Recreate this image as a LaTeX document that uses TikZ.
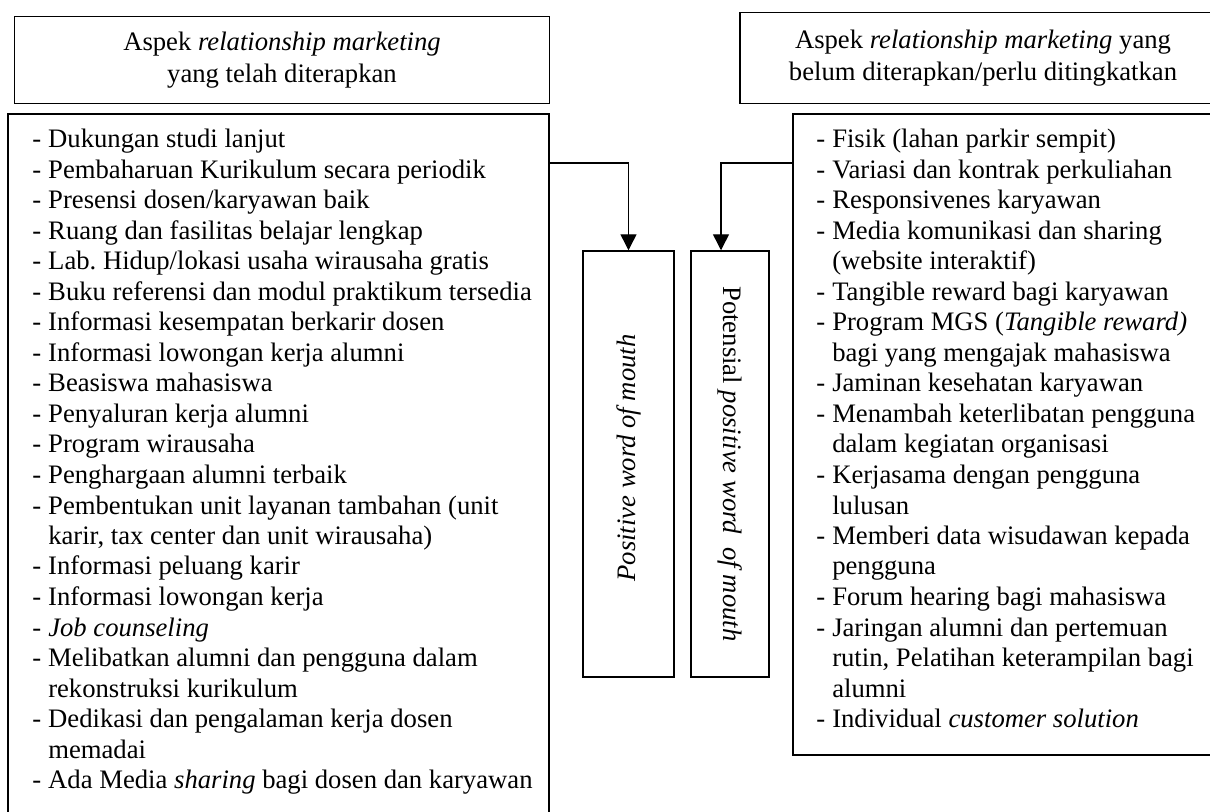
\documentclass[tikz,border=0pt]{standalone}
\usepackage{fontspec}
\setmainfont{Liberation Serif}
\usetikzlibrary{arrows.meta}

\newcommand\dsh{\makebox[0.6em][l]{-}}
\newcommand\ind{\hspace*{0.6em}}

\begin{document}
\begin{tikzpicture}[x=0.75pt,y=-0.75pt,font=\fontsize{20pt}{23.5pt}\selectfont]
\tikzset{
    box/.style={draw, line width=1.1pt, inner sep=0pt},
    head/.style={box, align=center},
    item/.style={anchor=base west, inner sep=0pt},
    conn/.style={line width=1.1pt, -{Triangle[length=12pt,width=12pt]}}}
\def\pitch{30.5}
\def\ytop{148}

\useasboundingbox (0,0) rectangle (1210,812);
\clip (0,0) rectangle (1210,812);

% headers
\node[head, minimum width=401.25pt, minimum height=65.25pt] (lhead) at (282,60)
    {Aspek \textit{relationship marketing}\\yang telah diterapkan};
\node[head, minimum width=364.5pt, minimum height=68.25pt] (rhead) at (983,58)
    {Aspek \textit{relationship marketing} yang\\belum diterapkan/perlu ditingkatkan};

% list boxes
\node[box, minimum width=405.75pt, minimum height=589.5pt] (lbox) at (278.5,507) {};
\node[box, minimum width=327.75pt, minimum height=480.75pt] (rbox) at (1011.5,434.5) {};

\foreach \t [count=\i] in {
    {\dsh Dukungan studi lanjut},
    {\dsh Pembaharuan Kurikulum secara periodik},
    {\dsh Presensi dosen/karyawan baik},
    {\dsh Ruang dan fasilitas belajar lengkap},
    {\dsh Lab.\ Hidup/lokasi usaha wirausaha gratis},
    {\dsh Buku referensi dan modul praktikum tersedia},
    {\dsh Informasi kesempatan berkarir dosen},
    {\dsh Informasi lowongan kerja alumni},
    {\dsh Beasiswa mahasiswa},
    {\dsh Penyaluran kerja alumni},
    {\dsh Program wirausaha},
    {\dsh Penghargaan alumni terbaik},
    {\dsh Pembentukan unit layanan tambahan (unit},
    {\ind karir, tax center dan unit wirausaha)},
    {\dsh Informasi peluang karir},
    {\dsh Informasi lowongan kerja},
    {\dsh \textit{Job counseling}},
    {\dsh Melibatkan alumni dan pengguna dalam},
    {\ind rekonstruksi kurikulum},
    {\dsh Dedikasi dan pengalaman kerja dosen},
    {\ind memadai},
    {\dsh Ada Media \textit{sharing} bagi dosen dan karyawan}}{
    \node[item] (l\i) at (32,{\ytop+\pitch*(\i-1)}) {\t};
}

\foreach \t [count=\i] in {
    {\dsh Fisik (lahan parkir sempit)},
    {\dsh Variasi dan kontrak perkuliahan},
    {\dsh Responsivenes karyawan},
    {\dsh Media komunikasi dan sharing},
    {\ind (website interaktif)},
    {\dsh Tangible reward bagi karyawan},
    {\dsh Program MGS (\textit{Tangible reward)}},
    {\ind bagi yang mengajak mahasiswa},
    {\dsh Jaminan kesehatan karyawan},
    {\dsh Menambah keterlibatan pengguna},
    {\ind dalam kegiatan organisasi},
    {\dsh Kerjasama dengan pengguna},
    {\ind lulusan},
    {\dsh Memberi data wisudawan kepada},
    {\ind pengguna},
    {\dsh Forum hearing bagi mahasiswa},
    {\dsh Jaringan alumni dan pertemuan},
    {\ind rutin, Pelatihan keterampilan bagi},
    {\ind alumni},
    {\dsh Individual \textit{customer solution}}}{
    \node[item] (r\i) at (816,{\ytop+\pitch*(\i-1)}) {\t};
}

% word of mouth boxes
\node[box, minimum width=68.25pt, minimum height=319.5pt] (pwom) at (628.5,464) {};
\node[box, minimum width=58.5pt, minimum height=319.5pt] (ppwom) at (730,464) {};
\node[rotate=90] (pwomtext) at ([yshift=4.5pt]pwom.center) {\textit{Positive word of mouth}};
\node[rotate=-90] (ppwomtext) at (ppwom.center) {Potensial \textit{positive word\ \ of mouth}};

\draw[conn] (lbox.east |- 0,163) -| (pwom.north);
\draw[conn] (rbox.west |- 0,163) -| ([xshift=-6.75pt]ppwom.north);

\end{tikzpicture}
\end{document}
